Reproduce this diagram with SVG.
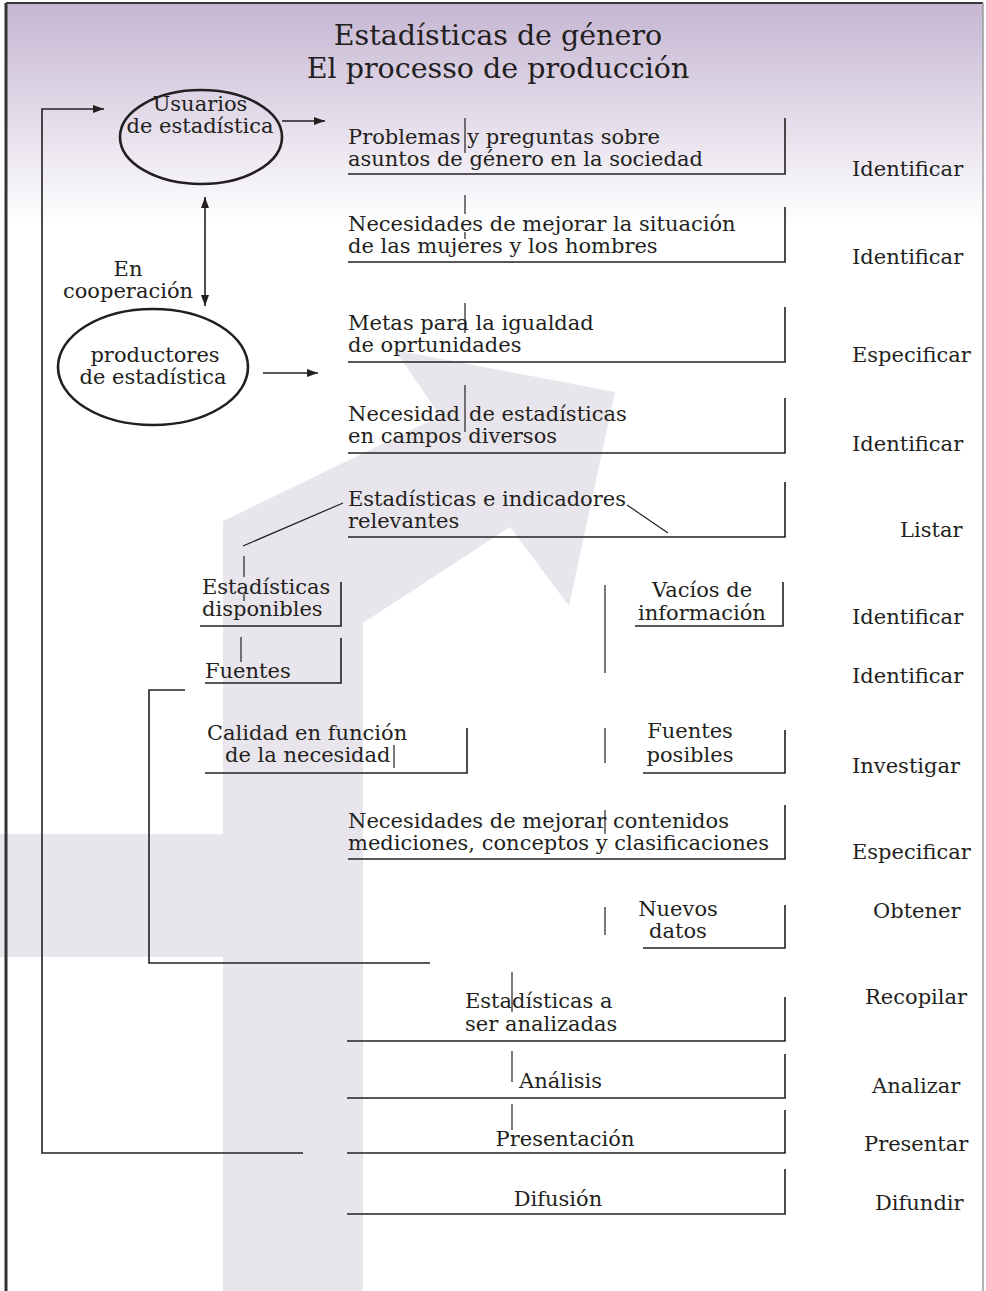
<svg xmlns="http://www.w3.org/2000/svg" width="986" height="1291" viewBox="0 0 986 1291">
<defs>
<linearGradient id="bg" gradientUnits="userSpaceOnUse" x1="0" y1="3" x2="0" y2="225">
<stop offset="0" stop-color="#c6b6d3"/>
<stop offset="1" stop-color="#ffffff"/>
</linearGradient>
<marker id="ah" markerUnits="userSpaceOnUse" markerWidth="12" markerHeight="8" refX="11" refY="4" orient="auto-start-reverse">
<path d="M0,0 L11,4 L0,8 z" fill="#231f20"/>
</marker>
<style>
.t{font-family:"DejaVu Serif","Liberation Serif",serif;font-size:21px;fill:#231f20;}
.ti{font-size:28.5px;}
.m{text-anchor:middle;}
.ln{stroke:#231f20;stroke-width:1.6;fill:none;}
.tk{stroke:#231f20;stroke-width:1.2;fill:none;}
.el{fill:none;stroke:#231f20;stroke-width:2.6;}
</style>
</defs>
<rect x="0" y="0" width="986" height="1291" fill="#ffffff"/>
<rect x="6" y="3" width="977" height="1288" fill="url(#bg)"/>
<polygon points="223,521 440,416 395,350 615,392 569,606 510,527 363,623 363,1291 223,1291 223,957 0,957 0,834 223,834" fill="#e9e5ec"/>
<g id="frame">
<line x1="6" y1="3" x2="983" y2="3" stroke="#3a3a3a" stroke-width="2"/>
<line x1="6" y1="3" x2="6" y2="1291" stroke="#333333" stroke-width="3"/>
<line x1="983" y1="3" x2="983" y2="1291" stroke="#9a9a9a" stroke-width="1.5"/>
</g>
<g id="title">
<text class="t ti m" x="498" y="45">Estadísticas de género</text>
<text class="t ti m" x="498" y="78">El processo de producción</text>
</g>
<g id="connectors">
<polyline class="ln" points="303,1153 42,1153 42,109 104,109" marker-end="url(#ah)"/>
<line class="ln" x1="282" y1="121" x2="325" y2="121" marker-end="url(#ah)"/>
<line class="ln" x1="205" y1="197" x2="205" y2="306" marker-start="url(#ah)" marker-end="url(#ah)"/>
<line class="ln" x1="263" y1="373" x2="318" y2="373" marker-end="url(#ah)"/>
<polyline class="ln" points="185,690 149,690 149,963 430,963"/>
<line class="tk" x1="343" y1="503" x2="243" y2="546"/>
<line class="tk" x1="627" y1="505" x2="668" y2="533"/>
</g>
<g id="usuarios">
<ellipse class="el" cx="201" cy="137" rx="81" ry="47"/>
<text class="t m" x="200" y="111">Usuarios</text>
<text class="t m" x="200" y="133">de estadística</text>
</g>
<g id="cooperacion">
<text class="t m" x="128" y="276">En</text>
<text class="t m" x="128" y="298">cooperación</text>
</g>
<g id="productores">
<ellipse class="el" cx="153" cy="367" rx="95" ry="58"/>
<text class="t m" x="155" y="362">productores</text>
<text class="t m" x="153" y="384">de estadística</text>
</g>
<g id="problemas">
<text class="t" x="348" y="144">Problemas y preguntas sobre</text>
<text class="t" x="348" y="166">asuntos de género en la sociedad</text>
<polyline class="ln" points="348,174 785,174 785,118"/>
<line class="tk" x1="465" y1="118" x2="465" y2="153"/>
<text class="t" x="852" y="176">Identificar</text>
</g>
<g id="necesidades-mejorar">
<text class="t" x="348" y="231">Necesidades de mejorar la situación</text>
<text class="t" x="348" y="253">de las mujeres y los hombres</text>
<polyline class="ln" points="348,262 785,262 785,207"/>
<line class="tk" x1="465" y1="195" x2="465" y2="214"/>
<line class="tk" x1="465" y1="232" x2="465" y2="239"/>
<text class="t" x="852" y="264">Identificar</text>
</g>
<g id="metas">
<text class="t" x="348" y="330">Metas para la igualdad</text>
<text class="t" x="348" y="352">de oprtunidades</text>
<polyline class="ln" points="348,362 785,362 785,307"/>
<line class="tk" x1="465" y1="303" x2="465" y2="333"/>
<text class="t" x="852" y="362">Especificar</text>
</g>
<g id="necesidad-estadisticas">
<text class="t" x="348" y="421">Necesidad</text>
<text class="t" x="469" y="421">de estadísticas</text>
<text class="t" x="348" y="443">en campos diversos</text>
<polyline class="ln" points="348,453 785,453 785,398"/>
<line class="tk" x1="465" y1="385" x2="465" y2="432"/>
<text class="t" x="852" y="451">Identificar</text>
</g>
<g id="indicadores">
<text class="t" x="348" y="506">Estadísticas e indicadores</text>
<text class="t" x="348" y="528">relevantes</text>
<polyline class="ln" points="348,537 785,537 785,482"/>
<text class="t" x="900" y="537">Listar</text>
</g>
<g id="disponibles">
<text class="t" x="202" y="594">Estadísticas</text>
<text class="t" x="202" y="616">disponibles</text>
<polyline class="ln" points="200,626 341,626 341,582"/>
<line class="tk" x1="244" y1="556" x2="244" y2="577"/>
<line class="tk" x1="244" y1="594" x2="244" y2="601"/>
</g>
<g id="fuentes">
<text class="t" x="205" y="678">Fuentes</text>
<polyline class="ln" points="205,683 341,683 341,638"/>
<line class="tk" x1="241" y1="637" x2="241" y2="662"/>
</g>
<g id="vacios">
<text class="t m" x="702" y="597">Vacíos de</text>
<text class="t m" x="702" y="620">información</text>
<polyline class="ln" points="635,626 783,626 783,582"/>
<line class="tk" x1="605" y1="585" x2="605" y2="673"/>
<text class="t" x="852" y="624">Identificar</text>
<text class="t" x="852" y="683">Identificar</text>
</g>
<g id="calidad">
<text class="t" x="207" y="740">Calidad en función</text>
<text class="t" x="225" y="762">de la necesidad</text>
<polyline class="ln" points="205,773 467,773 467,728"/>
<line class="tk" x1="394" y1="745" x2="394" y2="768"/>
</g>
<g id="fuentes-posibles">
<text class="t m" x="690" y="738">Fuentes</text>
<text class="t m" x="690" y="762">posibles</text>
<polyline class="ln" points="643,773 785,773 785,730"/>
<line class="tk" x1="605" y1="728" x2="605" y2="763"/>
<text class="t" x="852" y="773">Investigar</text>
</g>
<g id="mejorar-contenidos">
<text class="t" x="348" y="828">Necesidades de mejorar contenidos</text>
<text class="t" x="348" y="850">mediciones, conceptos y clasificaciones</text>
<polyline class="ln" points="348,859 785,859 785,805"/>
<line class="tk" x1="605" y1="810" x2="605" y2="834"/>
<text class="t" x="852" y="859">Especificar</text>
</g>
<g id="nuevos-datos">
<text class="t m" x="678" y="916">Nuevos</text>
<text class="t m" x="678" y="938">datos</text>
<polyline class="ln" points="643,948 785,948 785,905"/>
<line class="tk" x1="605" y1="907" x2="605" y2="935"/>
<text class="t" x="873" y="918">Obtener</text>
</g>
<g id="analizadas">
<text class="t" x="465" y="1008">Estadísticas a</text>
<text class="t" x="465" y="1031">ser analizadas</text>
<polyline class="ln" points="347,1041 785,1041 785,997"/>
<line class="tk" x1="512" y1="972" x2="512" y2="1012"/>
<text class="t" x="865" y="1004">Recopilar</text>
</g>
<g id="analisis">
<text class="t" x="519" y="1088">Análisis</text>
<polyline class="ln" points="347,1098 785,1098 785,1054"/>
<line class="tk" x1="512" y1="1051" x2="512" y2="1082"/>
<text class="t" x="872" y="1093">Analizar</text>
</g>
<g id="presentacion">
<text class="t m" x="565" y="1146">Presentación</text>
<polyline class="ln" points="347,1153 785,1153 785,1110"/>
<line class="tk" x1="512" y1="1104" x2="512" y2="1130"/>
<text class="t" x="864" y="1151">Presentar</text>
</g>
<g id="difusion">
<text class="t m" x="558" y="1206">Difusión</text>
<polyline class="ln" points="347,1214 785,1214 785,1169"/>
<text class="t" x="875" y="1210">Difundir</text>
</g>
</svg>
